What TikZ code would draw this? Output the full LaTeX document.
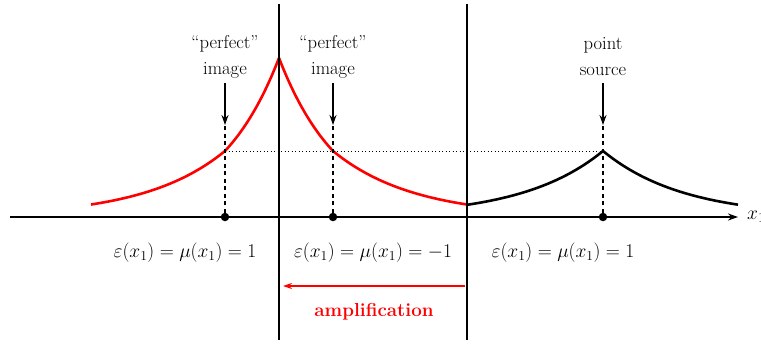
\RequirePackage{fix-cm}
\documentclass[tikz,border=0pt]{standalone}
\usetikzlibrary{arrows.meta}
\begin{document}
\begin{tikzpicture}[x=1pt,y=-1pt,font=\fontsize{18.6}{26}\selectfont]
\useasboundingbox (0,0) rectangle (761,346);
\tikzset{
  curve/.style={line width=2.6pt,line join=round},
  wall/.style={line width=2.6pt},
  axisline/.style={line width=1.8pt,-{Stealth[length=10pt,width=7pt]}},
  dot/.style={circle,fill,inner sep=0pt,minimum size=8.5pt},
  pointer/.style={line width=2.4pt,-{Stealth[length=10pt,width=7pt]}},
  guide/.style={line width=1.1pt,dash pattern=on 4pt off 3.5pt},
  level/.style={line width=0.9pt,dash pattern=on 1pt off 2.5pt},
  amp/.style={red,line width=2pt,-{Stealth[length=9pt,width=6pt]}},
  mathlab/.style={font=\fontsize{19.5}{24}\selectfont},
}
% axis
\coordinate (axL) at (10,217);
\coordinate (axR) at (738,217);
\draw[axisline] (axL) -- (axR);
\node[anchor=west,inner sep=0pt,mathlab] (xlab) at (747,217) {$x_1$};
% curves
\draw[red,curve] plot[domain=91:225,samples=50] (\x,{217-66*exp(-(225-\x)/80.5)})
  -- plot[domain=225:279,samples=30] (\x,{217-66*exp((\x-225)/61.4)})
  -- plot[domain=279:333,samples=30] (\x,{217-66*exp((333-\x)/61.4)})
  -- plot[domain=333:467,samples=50] (\x,{217-66*exp((333-\x)/80.5)});
\draw[curve] plot[domain=467:603,samples=50] (\x,{217-66*exp((\x-603)/80.5)})
  -- plot[domain=603:738,samples=50] (\x,{217-66*exp((603-\x)/80.5)});
% walls
\coordinate (w1t) at (279,4); \coordinate (w1b) at (279,340);
\coordinate (w2t) at (467,4); \coordinate (w2b) at (467,340);
\draw[wall] (w1t) -- (w1b);
\draw[wall] (w2t) -- (w2b);
% dots
\node[dot] (d1) at (225,217) {};
\node[dot] (d2) at (333,217) {};
\node[dot] (d3) at (603,217) {};
% guides
\coordinate (g1) at (225,125);
\coordinate (g2) at (333,125);
\coordinate (g3) at (603,125);
\draw[guide] (d1) -- (g1);
\draw[guide] (d2) -- (g2);
\draw[guide] (d3) -- (g3);
\coordinate (l1) at (225,151);
\coordinate (l3) at (603,151);
\draw[level] (l1) -- (l3);
% pointers
\coordinate (p1) at (225,83);
\coordinate (p2) at (333,83);
\coordinate (p3) at (603,83);
\draw[pointer] (p1) -- (g1);
\draw[pointer] (p2) -- (g2);
\draw[pointer] (p3) -- (g3);
% labels
\node[align=center] (la) at (225,57) {``perfect''\\image};
\node[align=center] (lb) at (333,57) {``perfect''\\image};
\node[align=center] (lc) at (603,57) {point\\source};
\node[mathlab] (e1) at (185,253) {$\varepsilon(x_1)=\mu(x_1)=1$};
\node[mathlab] (e2) at (373,253) {$\varepsilon(x_1)=\mu(x_1)=-1$};
\node[mathlab] (e3) at (563,253) {$\varepsilon(x_1)=\mu(x_1)=1$};
% amplification
\coordinate (aR) at (465,286);
\coordinate (aL) at (283,286);
\draw[amp] (aR) -- (aL);
\node[red,font=\fontsize{18.8}{22}\selectfont\bfseries] (amplab) at (374,312) {amplification};
\end{tikzpicture}
\end{document}
